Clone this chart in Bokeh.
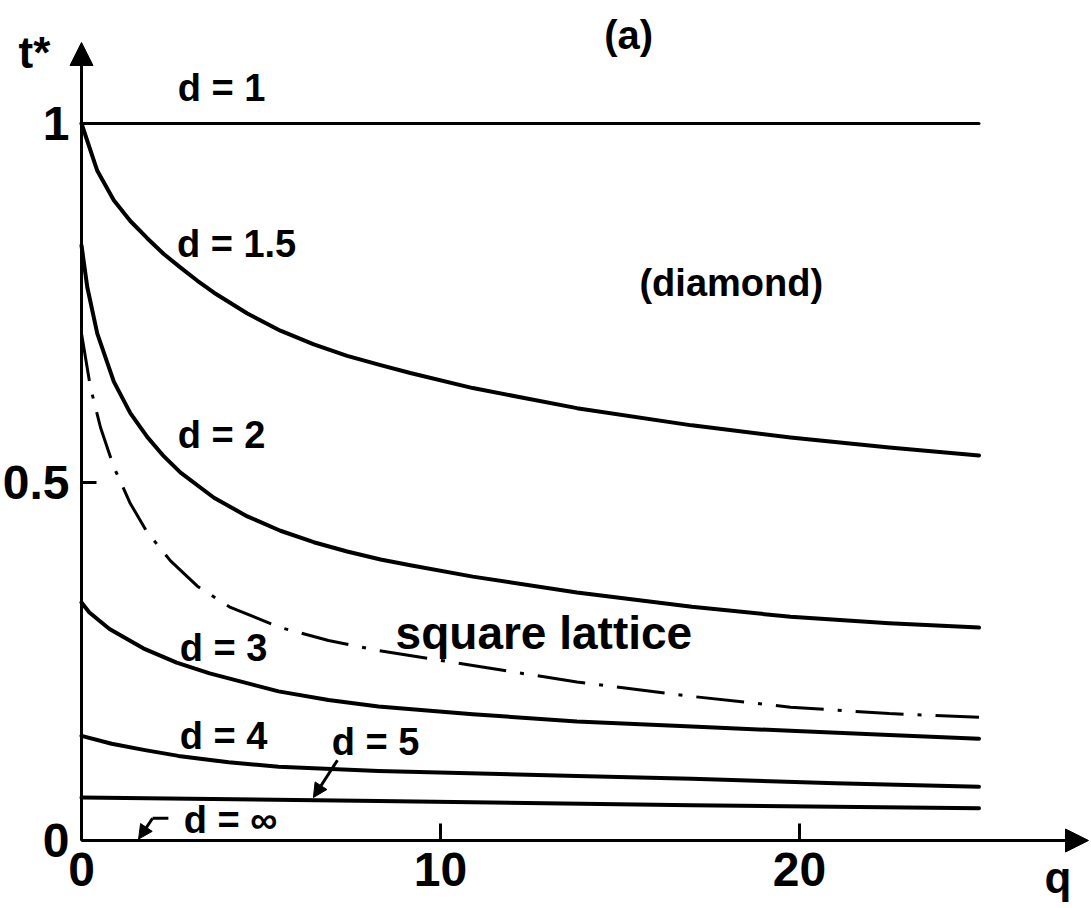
from bokeh.plotting import figure
from bokeh.models import (Range1d, FixedTicker, Label, Arrow, NormalHead,
                          ColumnDataSource)
from bokeh.core.properties import value
from bokeh.embed import file_html
from bokeh.resources import INLINE

FONT = "Liberation Sans"

# Critical temperature t* against q, one curve per dimension d
q_d1 = [0.0, 25.0]
t_d1 = [1.0, 1.0]

q_d15 = [0.0, 0.44, 0.90, 1.36, 1.83, 2.29, 2.76, 3.22, 3.69, 4.62, 5.54,
         6.47, 7.40, 8.33, 9.16, 10.9, 13.8, 17.0, 19.75, 22.5, 25.0]
t_d15 = [1.0, 0.934, 0.893, 0.864, 0.840, 0.818, 0.799, 0.781, 0.764, 0.735,
         0.711, 0.692, 0.676, 0.663, 0.652, 0.631, 0.603, 0.579, 0.562, 0.548,
         0.537]

q_d2 = [0.0, 0.16, 0.44, 0.90, 1.36, 1.83, 2.29, 2.76, 3.69, 4.62, 5.54,
        6.47, 7.40, 8.33, 9.16, 10.9, 13.8, 17.0, 19.75, 22.5, 25.0]
t_d2 = [0.830, 0.772, 0.707, 0.640, 0.596, 0.563, 0.536, 0.513, 0.478, 0.452,
        0.432, 0.416, 0.403, 0.392, 0.384, 0.368, 0.346, 0.326, 0.312, 0.303,
        0.297]

# square lattice
q_sq = [0.0, 0.25, 0.53, 0.90, 1.36, 1.83, 2.48, 3.22, 4.15, 5.54, 6.88,
        8.27, 10.9, 13.8, 17.0, 19.75, 22.5, 25.0]
t_sq = [0.707, 0.632, 0.576, 0.521, 0.470, 0.430, 0.390, 0.355, 0.325, 0.297,
        0.279, 0.265, 0.244, 0.221, 0.201, 0.186, 0.177, 0.172]

q_d3 = [0.0, 0.22, 0.78, 1.72, 2.65, 3.57, 5.49, 6.88, 8.27, 10.9, 13.8,
        17.0, 19.75, 22.5, 25.0]
t_d3 = [0.332, 0.318, 0.295, 0.268, 0.248, 0.233, 0.208, 0.196, 0.187, 0.176,
        0.166, 0.159, 0.153, 0.147, 0.142]

q_d4 = [0.0, 0.84, 1.77, 2.7, 4.1, 5.49, 8.27, 13.8, 17.0, 21.0, 25.0]
t_d4 = [0.146, 0.135, 0.126, 0.118, 0.109, 0.103, 0.097, 0.090, 0.086, 0.080,
        0.075]

q_d5 = [0.0, 8.27, 17.0, 25.0]
t_d5 = [0.060, 0.055, 0.049, 0.045]

x_ticks = [0, 10, 20]
y_ticks = [0, 0.5, 1]
y_tick_labels = ["0", "0.5", "1"]

curve_labels = ["d = 1", "d = 1.5", "d = 2", "d = 3", "d = 4", "d = 5", "d = \u221e"]
curve_label_q = [3.90, 4.32, 3.90, 3.96, 3.96, 8.19, 4.15]
curve_label_t = [1.049, 0.832, 0.565, 0.268, 0.146, 0.137, 0.028]

# the frame fills the whole canvas; the axes sit on q = 0 and t* = 0
p = figure(width=1091, height=908, output_backend="svg", toolbar_location=None,
           x_range=Range1d(-2.2563, 28.134), y_range=Range1d(-0.09484, 1.17155),
           min_border=0)
p.outline_line_color = None
p.grid.visible = False
p.background_fill_color = "white"
p.border_fill_color = "white"

for ax in (p.xaxis[0], p.yaxis[0]):
    ax.fixed_location = 0
    ax.axis_line_width = 3
    ax.axis_line_color = "black"
    ax.major_tick_line_width = 3
    ax.major_tick_line_color = "black"
    ax.major_tick_out = 0
    ax.minor_tick_line_color = None
    ax.major_label_text_font = FONT
    ax.major_label_text_font_style = "bold"
    ax.major_label_text_font_size = "48px"
    ax.major_label_text_color = "black"

p.xaxis.ticker = FixedTicker(ticks=x_ticks)
p.xaxis.major_tick_in = 17
p.xaxis.major_label_standoff = 13
p.xaxis.bounds = (0, 27.5)

p.yaxis.ticker = FixedTicker(ticks=y_ticks)
p.yaxis.major_label_overrides = {t: s for t, s in zip(y_ticks, y_tick_labels)}
p.yaxis.major_tick_in = 15
p.yaxis.major_label_standoff = 12
p.yaxis.bounds = (0, 1.085)

# axis arrowheads
head = dict(fill_color="black", line_color="black", line_width=1)
p.add_layout(Arrow(end=NormalHead(size=23, **head),
                   x_start=27.4, y_start=0, x_end=28.05, y_end=0,
                   line_width=3, line_color="black"))
p.add_layout(Arrow(end=NormalHead(size=23, **head),
                   x_start=0, y_start=1.07, x_end=0, y_end=1.113,
                   line_width=3, line_color="black"))

solid = [(q_d1, t_d1, 3), (q_d15, t_d15, 4), (q_d2, t_d2, 4),
         (q_d3, t_d3, 4), (q_d4, t_d4, 4), (q_d5, t_d5, 4)]
for qs, ts, w in solid:
    p.line(qs, ts, line_color="black", line_width=w, line_cap="round",
           line_join="round")

p.line(q_sq, t_sq, line_color="black", line_width=3, line_dash="48 14 4 14")

# pointers from the d = 5 and d = infinity labels
p.add_layout(Arrow(end=NormalHead(size=14, **head),
                   x_start=7.13, y_start=0.112, x_end=6.46, y_end=0.060,
                   line_width=3, line_color="black"))
p.line([2.42, 1.98], [0.031, 0.031], line_color="black", line_width=3)
p.add_layout(Arrow(end=NormalHead(size=14, **head),
                   x_start=1.98, y_start=0.031, x_end=1.59, y_end=0.002,
                   line_width=3, line_color="black"))

src = ColumnDataSource(dict(x=curve_label_q, y=curve_label_t, text=curve_labels))
p.text(x="x", y="y", text="text", source=src, text_font=value(FONT),
       text_font_style="bold", text_font_size="38px", text_align="center",
       text_baseline="middle", text_color="black")

for txt, qx, ty, size in [("square lattice", 12.88, 0.290, "46px"),
                          ("(diamond)", 18.1, 0.778, "38px"),
                          ("(a)", 15.24, 1.123, "40px"),
                          ("t*", -1.31, 1.099, "44px"),
                          ("q", 27.2, -0.052, "44px")]:
    p.add_layout(Label(x=qx, y=ty, text=txt, text_font=FONT, text_font_style="bold",
                       text_font_size=size, text_align="center",
                       text_baseline="middle", text_color="black"))

open("out.html", "w").write(file_html(p, INLINE))
